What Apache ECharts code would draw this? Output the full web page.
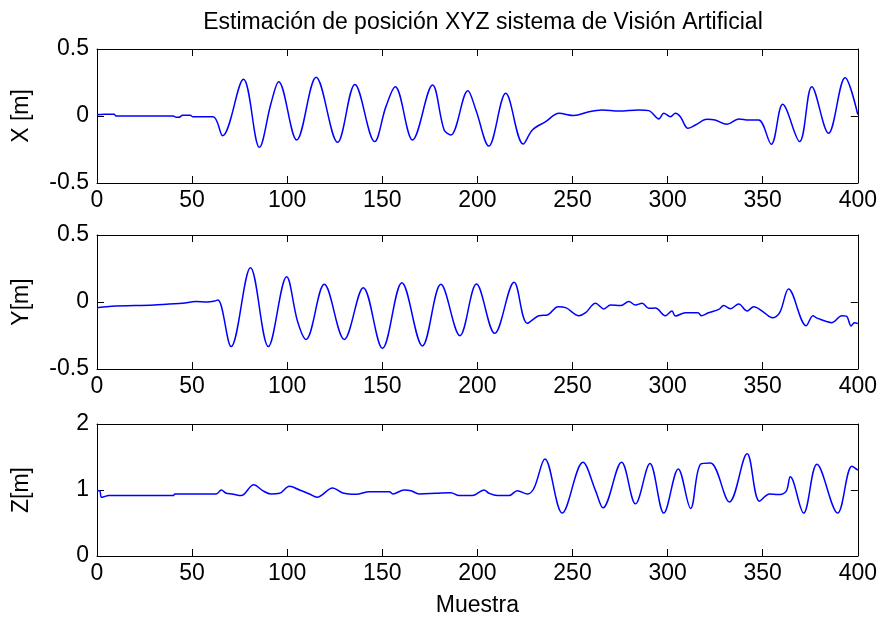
<!DOCTYPE html>
<html>
<head>
<meta charset="utf-8">
<script src="https://cdn.jsdelivr.net/npm/echarts@6/dist/echarts.min.js"></script>
<style>
  html, body { margin: 0; padding: 0; background: #fff; }
  #chart { width: 880px; height: 618px; }
</style>
</head>
<body>
<div id="chart"></div>
<script>
// Estimated XYZ position from the vision system, one sample per frame: [sample, metres]
const posX = [
  [0, 0.01], [4, 0.013], [9, 0.013], [10, 0], [40, 0], [41.7, -0.01], [43, -0.01], [45, 0.005],
  [49, 0.005], [50.4, -0.005], [61, -0.005], [66, -0.147], [77, 0.274], [85.4, -0.234],
  [91.5, 0.095], [95.5, 0.256], [105, -0.179], [115.2, 0.289], [126.5, -0.196], [135.6, 0.236],
  [146, -0.191], [151.9, 0.07], [156.8, 0.219], [165.9, -0.179], [176.4, 0.231], [182.5, -0.104],
  [186, -0.142], [195, 0.189], [199.2, 0.045], [206, -0.224], [214.9, 0.169], [224.1, -0.209],
  [228.9, -0.104], [235.9, -0.042], [242.9, 0.02], [250.8, 0.003], [258.6, 0.032], [265.6, 0.045],
  [274.4, 0.037], [284.9, 0.045], [290.1, 0.04], [295.4, -0.022], [298, 0.02], [301.5, -0.005],
  [304.1, 0.02], [306.7, -0.005], [310.7, -0.092], [314.6, -0.067], [320.7, -0.025], [324.9, -0.03],
  [331.2, -0.062], [337.4, -0.022], [342.6, -0.03], [347.9, -0.03], [354.5, -0.211], [360.5, 0.087],
  [369.4, -0.191], [375.8, 0.219], [384.6, -0.129], [393.3, 0.286], [400, 0.01]
];
const posY = [
  [0, -0.042], [2, -0.04], [10, -0.03], [20, -0.027], [30, -0.022], [38, -0.015], [45, -0.01],
  [52, 0.003], [58, 0.0], [61.8, 0.007], [63.6, 0.015], [70.5, -0.333], [80.7, 0.256], [90.1, -0.333],
  [99.7, 0.189], [105.5, -0.147], [109.9, -0.279], [119.5, 0.132], [130, -0.279], [140, 0.107],
  [150.1, -0.346], [160.3, 0.144], [171.1, -0.328], [180.8, 0.132], [190.8, -0.251], [199.5, 0.134],
  [209.1, -0.234], [219.3, 0.147], [226.3, -0.159], [232.4, -0.102], [236.8, -0.097], [242.4, -0.035],
  [246.4, -0.042], [253.4, -0.102], [256.9, -0.08], [262.1, -0.01], [266.5, -0.052], [270, -0.022],
  [275.2, -0.027], [279.6, 0.003], [283.1, -0.022], [286.6, -0.01], [290.1, -0.047], [293.6, -0.045],
  [298.8, -0.102], [302.3, -0.067], [304.1, -0.105], [309.3, -0.08], [316, -0.08], [317.7, -0.102],
  [321.5, -0.08], [326.9, -0.055], [329.5, -0.027], [333, -0.05], [337.4, -0.015], [341.8, -0.067],
  [345.3, -0.035], [350.6, -0.077], [355, -0.117], [359, -0.077], [363.6, 0.097], [372.9, -0.177],
  [376.4, -0.102], [378.5, -0.12], [386.4, -0.154], [391.6, -0.102], [394, -0.105], [396.5, -0.179],
  [398.2, -0.154], [400, -0.16]
];
const posZ = [
  [0, 0.99], [1.4, 0.99], [2.3, 0.89], [4, 0.9], [6, 0.915], [40, 0.915], [41, 0.94], [62.7, 0.94],
  [65.3, 1.0], [68, 0.95], [71, 0.94], [75.8, 0.915], [82.4, 1.08], [87.1, 0.99], [91.5, 0.94],
  [96, 0.95], [101.2, 1.055], [106.5, 1.0], [111.7, 0.94], [115.7, 0.89], [123.9, 1.03],
  [129.2, 0.955], [136.2, 0.935], [143.2, 0.975], [153.7, 0.975], [155.5, 0.94], [161.5, 1.0],
  [165, 0.99], [169.4, 0.94], [178.1, 0.95], [186, 0.96], [190.4, 0.915], [197.4, 0.915],
  [203.5, 1.0], [206.1, 0.95], [210.5, 0.915], [216.6, 0.915], [221, 0.99], [226.3, 0.94],
  [229.8, 1.03], [235.5, 1.47], [244.6, 0.65], [255.5, 1.42], [262.1, 0.99], [266, 0.73],
  [275.8, 1.42], [283.1, 0.79], [290.7, 1.40], [298, 0.65], [305.6, 1.32], [312.1, 0.72],
  [317.3, 1.39], [322.5, 1.41], [332.5, 0.82], [341.8, 1.55], [348.3, 0.83], [353.6, 0.94],
  [358, 0.93], [362.3, 0.98], [364.5, 1.2], [371.5, 0.65], [378.5, 1.39], [389.4, 0.65],
  [396.9, 1.36], [400, 1.3]
];

// Axis ranges and labels for the three stacked panels
const axisNames = ['X [m]', 'Y[m]', 'Z[m]'];
const yRanges = [[-0.5, 0.5, 0.5], [-0.5, 0.5, 0.5], [0, 2, 1]];
const xRange = [0, 400, 50];
const xName = 'Muestra';
const titleText = 'Estimación de posición XYZ sistema de Visión Artificial';

const FONT = "'Liberation Sans', Arial, sans-serif";
const FS = 23;
const gridTops = [49, 235, 424];
const gridH = 134;
const left = 97, right = 21;

const grids = gridTops.map(t => ({ left, right, top: t, height: gridH, containLabel: false }));

const lineStyle = { color: '#000', width: 1 };
const tick = { show: true, inside: true, length: 7, lineStyle };

const xAxes = [];
const yAxes = [];
const series = [];
const datasets = [posX, posY, posZ];

for (let i = 0; i < 3; i++) {
  xAxes.push({
    type: 'value', gridIndex: i, position: 'bottom',
    min: xRange[0], max: xRange[1], interval: xRange[2],
    axisLine: { show: true, onZero: false, lineStyle },
    axisTick: tick,
    splitLine: { show: false },
    axisLabel: { color: '#000', fontFamily: FONT, fontSize: FS, margin: 6 },
    name: i === 2 ? xName : '',
    nameLocation: 'middle', nameGap: 38,
    nameTextStyle: { color: '#000', fontFamily: FONT, fontSize: FS }
  });
  xAxes.push({
    type: 'value', gridIndex: i, position: 'top',
    min: xRange[0], max: xRange[1], interval: xRange[2],
    axisLine: { show: true, onZero: false, lineStyle },
    axisTick: tick,
    splitLine: { show: false },
    axisLabel: { show: false }
  });
  const [ymin, ymax, yint] = yRanges[i];
  yAxes.push({
    type: 'value', gridIndex: i, position: 'left',
    min: ymin, max: ymax, interval: yint,
    axisLine: { show: true, onZero: false, lineStyle },
    axisTick: tick,
    splitLine: { show: false },
    axisLabel: { color: '#000', fontFamily: FONT, fontSize: FS, margin: 8 },
    name: axisNames[i], nameLocation: 'middle', nameGap: 64, nameRotate: 90,
    nameTextStyle: { color: '#000', fontFamily: FONT, fontSize: FS }
  });
  yAxes.push({
    type: 'value', gridIndex: i, position: 'right',
    min: ymin, max: ymax, interval: yint,
    axisLine: { show: true, onZero: false, lineStyle },
    axisTick: tick,
    splitLine: { show: false },
    axisLabel: { show: false }
  });
  series.push({
    type: 'line', xAxisIndex: i * 2, yAxisIndex: i * 2,
    data: datasets[i], smooth: 0.35, showSymbol: false,
    lineStyle: { color: '#0000ff', width: 1.5 },
    animation: false
  });
}

const chart = echarts.init(document.getElementById('chart'), null, { renderer: 'canvas' });
chart.setOption({
  animation: false,
  backgroundColor: '#fff',
  title: {
    text: titleText, left: 478, top: 6, textAlign: 'center',
    textStyle: { color: '#000', fontFamily: FONT, fontSize: FS, fontWeight: 'normal' }
  },
  grid: grids,
  xAxis: xAxes,
  yAxis: yAxes,
  series
});
</script>
</body>
</html>
